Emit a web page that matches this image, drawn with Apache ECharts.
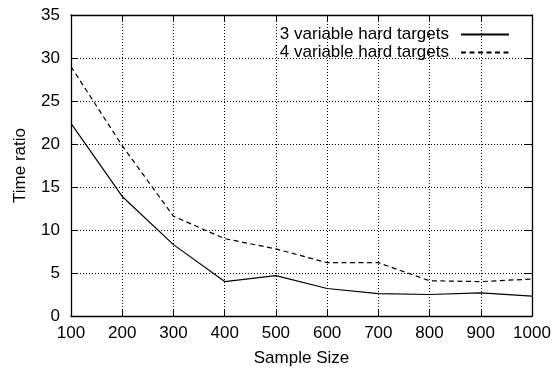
<!DOCTYPE html>
<html>
<head>
<meta charset="utf-8">
<script src="https://cdn.jsdelivr.net/npm/echarts@6/dist/echarts.min.js"></script>
<style>
  html, body { margin: 0; padding: 0; background: #fff; }
  #chart { width: 559px; height: 372px; }
</style>
</head>
<body>
<div id="chart"></div>
<script>
// sample sizes on the x axis
const sampleSizes = [100, 200, 300, 400, 500, 600, 700, 800, 900, 1000];
// time ratio
const hard3 = [22.4, 13.9, 8.3, 4.0, 4.7, 3.2, 2.6, 2.5, 2.7, 2.3];
const hard4 = [29.0, 19.8, 11.6, 9.0, 7.8, 6.2, 6.2, 4.1, 4.0, 4.3];
const seriesNames = ['3 variable hard targets', '4 variable hard targets'];

const font = 'Liberation Sans, Arial, Helvetica, sans-serif';
const black = '#000';
const fs = 17;

function pairs(ys) {
  return sampleSizes.map((x, i) => [x, ys[i]]);
}

const chart = echarts.init(document.getElementById('chart'));

// gnuplot-ish frame: ticks inside on all four sides
const gridLine = { show: true, lineStyle: { color: black, type: [1, 2], width: 1 } };
const frameLine = { show: true, onZero: false, lineStyle: { color: black, width: 1.3 } };
const tickIn = { show: true, inside: true, length: 7, lineStyle: { color: black } };

const option = {
  animation: false,
  backgroundColor: '#fff',
  grid: { left: 71, right: 27, top: 15, bottom: 54 },
  legend: {
    orient: 'vertical',
    right: 49,
    top: 26,
    padding: 0,
    align: 'right',
    itemWidth: 48,
    itemHeight: 14,
    itemGap: 1,
    // hide the round marker, keep the line sample
    itemStyle: { opacity: 0 },
    textStyle: { fontFamily: font, fontSize: fs, lineHeight: 14, color: black, padding: [0, 7, 0, 0] },
    data: seriesNames
  },
  xAxis: [
    {
      type: 'value',
      min: 100,
      max: 1000,
      interval: 100,
      name: 'Sample Size',
      nameLocation: 'middle',
      nameGap: 34,
      nameTextStyle: { fontFamily: font, fontSize: fs, color: black },
      axisLine: frameLine,
      axisTick: tickIn,
      axisLabel: { fontFamily: font, fontSize: fs, color: black, margin: 9, formatter: v => String(v) },
      splitLine: gridLine
    },
    {
      type: 'value',
      position: 'top',
      min: 100,
      max: 1000,
      interval: 100,
      axisLine: frameLine,
      axisTick: tickIn,
      axisLabel: { show: false },
      splitLine: { show: false }
    }
  ],
  yAxis: [
    {
      type: 'value',
      min: 0,
      max: 35,
      interval: 5,
      name: 'Time ratio',
      nameLocation: 'middle',
      nameGap: 42,
      nameTextStyle: { fontFamily: font, fontSize: fs, color: black },
      axisLine: frameLine,
      axisTick: tickIn,
      axisLabel: { fontFamily: font, fontSize: fs, color: black, margin: 11 },
      splitLine: gridLine
    },
    {
      type: 'value',
      position: 'right',
      min: 0,
      max: 35,
      interval: 5,
      axisLine: frameLine,
      axisTick: tickIn,
      axisLabel: { show: false },
      splitLine: { show: false }
    }
  ],
  series: [
    {
      name: seriesNames[0],
      type: 'line',
      data: pairs(hard3),
      symbol: 'none',
      lineStyle: { color: black, width: 1.2, type: 'solid' },
      itemStyle: { color: black }
    },
    {
      name: seriesNames[1],
      type: 'line',
      data: pairs(hard4),
      symbol: 'none',
      lineStyle: { color: black, width: 1.2, type: [5, 3.5] },
      itemStyle: { color: black }
    }
  ]
};

chart.setOption(option);
</script>
</body>
</html>
